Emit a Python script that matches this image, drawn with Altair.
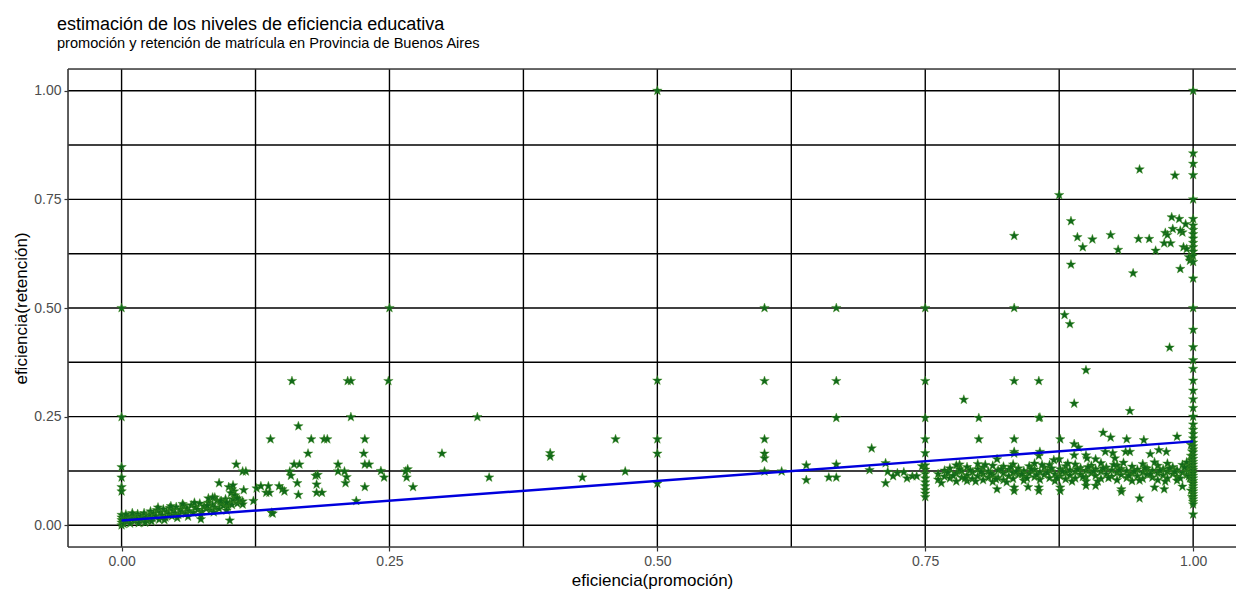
import altair as alt
import pandas as pd

# Axis breaks (ggplot-style major + minor grid)
X_MAJOR = [0.0, 0.25, 0.5, 0.75, 1.0]
X_MINOR = [0.125, 0.375, 0.625, 0.875]
Y_MAJOR = [0.0, 0.25, 0.5, 0.75, 1.0]
Y_MINOR = [0.125, 0.375, 0.625, 0.875]
X_LIMITS = [-0.05, 1.04]
Y_LIMITS = [-0.05, 1.05]

# (eficiencia promoción, eficiencia retención) per school district
origin_band = [
    (0, 0.0), (0, 0.006), (0, 0.012), (0, 0.018), (0, 0.024), (0.002, 0.003), (0.003, 0.015),
    (0.005, 0.008), (0.006, 0.02), (0.008, 0.004), (0.009, 0.014), (0.011, 0.022), (0.012, 0.009),
    (0.014, 0.017), (0.015, 0.026), (0.017, 0.011), (0.018, 0.021), (0.02, 0.015), (0.021, 0.028),
    (0.023, 0.019), (0.024, 0.01), (0.026, 0.024), (0.027, 0.032), (0.029, 0.016), (0.03, 0.027),
    (0.032, 0.021), (0.033, 0.035), (0.035, 0.013), (0.036, 0.029), (0.038, 0.023), (0.039, 0.037),
    (0.041, 0.018), (0.042, 0.031), (0.044, 0.026), (0.045, 0.04), (0.047, 0.021), (0.048, 0.034),
    (0.05, 0.028), (0.051, 0.042), (0.053, 0.024), (0.055, 0.036), (0.056, 0.031), (0.058, 0.045),
    (0.06, 0.027), (0.061, 0.039), (0.063, 0.033), (0.065, 0.046), (0.067, 0.029), (0.069, 0.041),
    (0.071, 0.036), (0.073, 0.05), (0.075, 0.032), (0.077, 0.044), (0.079, 0.038), (0.081, 0.052),
    (0.083, 0.035), (0.085, 0.047), (0.087, 0.041), (0.089, 0.057), (0.091, 0.038), (0.093, 0.049),
    (0.095, 0.045), (0.097, 0.06), (0.099, 0.043), (0.101, 0.052), (0.103, 0.047), (0.106, 0.064),
    (0.108, 0.05), (0.11, 0.058), (0.113, 0.055),
    (0.004, 0.025), (0.01, 0.028), (0.016, 0.005), (0.022, 0.006), (0.028, 0.009), (0.034, 0.041),
    (0.04, 0.012), (0.046, 0.044), (0.052, 0.017), (0.057, 0.049), (0.062, 0.02), (0.068, 0.052),
    (0.074, 0.024), (0.08, 0.045), (0.086, 0.03), (0.092, 0.055), (0.098, 0.034), (0.104, 0.06),
]

left_scatter = [
    (0, 0.5), (0, 0.249), (0, 0.134), (0, 0.11), (0, 0.088), (0, 0.078),
    (0.159, 0.332), (0.211, 0.332), (0.214, 0.332), (0.249, 0.332), (0.214, 0.249), (0.165, 0.228),
    (0.139, 0.198), (0.177, 0.198), (0.189, 0.198), (0.192, 0.198), (0.227, 0.198),
    (0.299, 0.165), (0.174, 0.165), (0.226, 0.165),
    (0.107, 0.14), (0.161, 0.14), (0.166, 0.14), (0.202, 0.14), (0.227, 0.14), (0.231, 0.14),
    (0.113, 0.124), (0.116, 0.124), (0.157, 0.124), (0.202, 0.124), (0.208, 0.124), (0.242, 0.125),
    (0.267, 0.129), (0.265, 0.124), (0.181, 0.114), (0.183, 0.116), (0.158, 0.114), (0.21, 0.111),
    (0.245, 0.11), (0.266, 0.11), (0.091, 0.097), (0.1, 0.088), (0.103, 0.083), (0.105, 0.078),
    (0.102, 0.074), (0.106, 0.069), (0.108, 0.062), (0.104, 0.092), (0.114, 0.081), (0.126, 0.085),
    (0.13, 0.09), (0.135, 0.075), (0.138, 0.075), (0.137, 0.09), (0.147, 0.09), (0.15, 0.083),
    (0.152, 0.078), (0.164, 0.097), (0.165, 0.07), (0.182, 0.094), (0.182, 0.075), (0.187, 0.075),
    (0.209, 0.097), (0.227, 0.088), (0.272, 0.088), (0.219, 0.056), (0.14, 0.029), (0.101, 0.011),
    (0.074, 0.014), (0.123, 0.056), (0.113, 0.048), (0.081, 0.062), (0.087, 0.064), (0.093, 0.056),
    (0.098, 0.052), (0.085, 0.064), (0.141, 0.027), (0.25, 0.5), (0.332, 0.249),
]

mid_scatter = [
    (0.343, 0.11), (0.4, 0.166), (0.4, 0.158), (0.43, 0.11), (0.461, 0.198), (0.47, 0.124),
    (0.5, 1.0), (0.5, 0.333), (0.5, 0.198), (0.5, 0.165), (0.5, 0.096),
    (0.6, 0.5), (0.6, 0.332), (0.6, 0.198), (0.6, 0.165), (0.6, 0.154), (0.6, 0.124),
    (0.616, 0.124), (0.639, 0.138), (0.639, 0.104), (0.667, 0.5), (0.667, 0.332), (0.667, 0.247),
    (0.667, 0.14), (0.66, 0.11), (0.667, 0.11), (0.7, 0.177), (0.698, 0.127), (0.713, 0.143),
    (0.713, 0.097), (0.715, 0.123), (0.72, 0.113), (0.724, 0.12), (0.73, 0.122), (0.733, 0.108),
    (0.738, 0.113), (0.742, 0.113), (0.747, 0.136),
    (0.75, 0.5), (0.75, 0.332), (0.75, 0.247), (0.75, 0.198), (0.75, 0.166), (0.75, 0.138),
    (0.75, 0.128), (0.75, 0.118), (0.75, 0.108), (0.75, 0.099), (0.75, 0.09), (0.75, 0.081),
    (0.75, 0.073), (0.75, 0.065),
]

right_scatter = [
    (0.786, 0.289), (0.8, 0.247), (0.8, 0.198), (0.833, 0.332), (0.856, 0.332), (0.856, 0.247),
    (0.833, 0.198), (0.833, 0.165), (0.782, 0.14), (0.817, 0.152), (0.817, 0.083), (0.833, 0.079),
    (0.833, 0.087), (0.846, 0.088), (0.856, 0.079), (0.856, 0.087), (0.856, 0.16), (0.876, 0.198),
    (0.876, 0.087), (0.876, 0.079), (0.9, 0.091), (0.909, 0.091), (0.933, 0.083), (0.933, 0.077),
    (0.95, 0.062), (0.964, 0.087), (0.973, 0.083), (0.99, 0.089), (0.87, 0.15), (0.875, 0.152),
    (0.889, 0.187), (0.893, 0.179), (0.9, 0.161), (0.901, 0.154), (0.889, 0.161), (0.918, 0.169),
    (0.925, 0.166), (0.937, 0.169), (0.941, 0.169), (0.96, 0.164), (0.968, 0.173), (0.975, 0.169),
    (0.927, 0.154), (0.909, 0.152), (0.916, 0.213), (0.923, 0.202), (0.938, 0.198), (0.954, 0.196),
    (0.985, 0.204), (0.857, 0.169), (0.833, 0.169), (0.889, 0.28), (0.941, 0.263), (0.857, 0.248),
    (0.833, 0.5), (0.833, 0.666), (0.875, 0.76), (0.886, 0.7), (0.892, 0.663), (0.897, 0.64),
    (0.886, 0.6), (0.906, 0.658), (0.88, 0.484), (0.885, 0.463), (0.9, 0.357), (0.978, 0.409),
    (0.923, 0.668), (0.949, 0.659), (0.959, 0.659), (0.93, 0.634), (0.965, 0.632), (0.944, 0.58),
    (0.95, 0.819), (0.983, 0.805), (0.98, 0.709), (0.987, 0.705), (0.993, 0.693), (0.99, 0.674),
    (0.981, 0.682), (0.974, 0.673), (0.976, 0.668), (0.988, 0.678), (0.973, 0.649), (0.979, 0.649),
    (0.991, 0.64), (0.994, 0.636), (0.988, 0.59), (0.996, 0.617), (0.997, 0.609),
]

right_band = [
    (0.762, 0.118), (0.762, 0.105), (0.768, 0.126), (0.768, 0.112), (0.773, 0.108), (0.773, 0.131),
    (0.779, 0.119), (0.779, 0.101), (0.779, 0.138), (0.784, 0.125), (0.784, 0.11), (0.789, 0.115),
    (0.789, 0.134), (0.789, 0.102), (0.794, 0.122), (0.794, 0.107), (0.799, 0.129), (0.799, 0.113),
    (0.799, 0.141), (0.804, 0.118), (0.804, 0.104), (0.804, 0.133), (0.809, 0.124), (0.809, 0.11),
    (0.813, 0.116), (0.813, 0.137), (0.813, 0.1), (0.818, 0.127), (0.818, 0.109), (0.823, 0.12),
    (0.823, 0.135), (0.823, 0.104), (0.828, 0.113), (0.828, 0.128), (0.832, 0.121), (0.832, 0.107),
    (0.832, 0.14), (0.837, 0.117), (0.837, 0.131), (0.842, 0.125), (0.842, 0.103), (0.842, 0.112),
    (0.847, 0.119), (0.847, 0.136), (0.852, 0.111), (0.852, 0.128), (0.852, 0.142), (0.857, 0.122),
    (0.857, 0.105), (0.861, 0.116), (0.861, 0.133), (0.866, 0.126), (0.866, 0.109), (0.866, 0.139),
    (0.871, 0.118), (0.871, 0.102), (0.876, 0.129), (0.876, 0.113), (0.881, 0.121), (0.881, 0.136),
    (0.881, 0.106), (0.885, 0.115), (0.885, 0.127), (0.89, 0.123), (0.89, 0.108), (0.89, 0.14),
    (0.895, 0.117), (0.895, 0.132), (0.9, 0.126), (0.9, 0.111), (0.9, 0.101), (0.905, 0.12),
    (0.905, 0.137), (0.909, 0.114), (0.909, 0.129), (0.914, 0.124), (0.914, 0.107), (0.914, 0.143),
    (0.919, 0.118), (0.919, 0.133), (0.924, 0.127), (0.924, 0.112), (0.929, 0.121), (0.929, 0.104),
    (0.929, 0.138), (0.933, 0.116), (0.933, 0.13), (0.938, 0.125), (0.938, 0.109), (0.943, 0.119),
    (0.943, 0.135), (0.943, 0.102), (0.948, 0.128), (0.948, 0.113), (0.953, 0.122), (0.953, 0.141),
    (0.953, 0.107), (0.957, 0.117), (0.957, 0.131), (0.962, 0.126), (0.962, 0.11), (0.967, 0.12),
    (0.967, 0.137), (0.967, 0.104), (0.972, 0.115), (0.972, 0.129), (0.976, 0.124), (0.976, 0.108),
    (0.976, 0.142), (0.981, 0.118), (0.981, 0.134), (0.985, 0.127), (0.985, 0.112), (0.985, 0.103),
    (0.99, 0.121), (0.99, 0.139), (0.994, 0.116), (0.994, 0.13), (0.994, 0.145), (0.997, 0.123),
    (0.997, 0.108), (0.997, 0.136),
    (0.765, 0.097), (0.771, 0.121), (0.776, 0.114), (0.782, 0.129), (0.787, 0.108), (0.792, 0.127),
    (0.797, 0.101), (0.802, 0.123), (0.806, 0.139), (0.811, 0.119), (0.816, 0.106), (0.821, 0.129),
    (0.826, 0.099), (0.83, 0.134), (0.835, 0.124), (0.84, 0.118), (0.845, 0.108), (0.849, 0.129),
    (0.854, 0.116), (0.859, 0.139), (0.864, 0.121), (0.868, 0.131), (0.873, 0.109), (0.878, 0.124),
    (0.883, 0.142), (0.887, 0.101), (0.892, 0.129), (0.897, 0.111), (0.902, 0.134), (0.907, 0.124),
    (0.911, 0.101), (0.916, 0.131), (0.921, 0.109), (0.926, 0.139), (0.931, 0.127), (0.935, 0.144),
    (0.94, 0.114), (0.945, 0.124), (0.95, 0.103), (0.955, 0.132), (0.96, 0.118), (0.964, 0.145),
    (0.969, 0.126), (0.974, 0.101), (0.978, 0.131), (0.983, 0.123), (0.988, 0.108), (0.992, 0.133),
    (0.996, 0.113), (0.999, 0.128), (0.999, 0.098), (0.998, 0.15), (0.998, 0.16), (0.999, 0.17),
    (0.998, 0.185), (0.999, 0.065), (0.998, 0.08),
]

full_promotion_retention = [
    1.0, 0.856, 0.832, 0.806, 0.75, 0.705, 0.69, 0.68, 0.67, 0.66, 0.65, 0.64, 0.63, 0.62,
    0.606, 0.568, 0.5, 0.45, 0.41, 0.38, 0.36, 0.333, 0.31, 0.29, 0.27, 0.25, 0.232, 0.22,
    0.21, 0.2, 0.19, 0.182, 0.175, 0.168, 0.16, 0.153, 0.146, 0.14, 0.133, 0.127, 0.12, 0.114,
    0.108, 0.102, 0.096, 0.09, 0.084, 0.078, 0.072, 0.066, 0.06, 0.054, 0.048, 0.025,
]

# linear fit endpoints
fit_x = [0.0, 1.0]
fit_y = [0.011, 0.193]

rows = origin_band + left_scatter + mid_scatter + right_scatter + right_band
rows += [(1.0, v) for v in full_promotion_retention]
points = pd.DataFrame(rows, columns=["promocion", "retencion"])
fit = pd.DataFrame({"promocion": fit_x, "retencion": fit_y})

STAR = ("M0,-1L0.235,-0.324L0.951,-0.309L0.38,0.124L0.588,0.809L0,0.4"
        "L-0.588,0.809L-0.38,0.124L-0.951,-0.309L-0.235,-0.324Z")
FONT = "Liberation Sans"

xscale = alt.Scale(domain=X_LIMITS, nice=False, zero=False)
yscale = alt.Scale(domain=Y_LIMITS, nice=False, zero=False)

xaxis = alt.Axis(values=X_MAJOR, format=".2f", title="eficiencia(promoción)", grid=False,
                 domain=False, tickSize=4, tickColor="#333333", tickWidth=1.2,
                 labelColor="#4d4d4d", labelFont=FONT, labelFontSize=14, labelPadding=3,
                 titleFont=FONT, titleFontSize=17, titleFontWeight="normal", titleColor="#000000",
                 titleBaseline="alphabetic", titleY=38)
yaxis = alt.Axis(values=Y_MAJOR, format=".2f", title="eficiencia(retención)", grid=False,
                 domain=False, tickSize=4, tickColor="#333333", tickWidth=1.2,
                 labelColor="#4d4d4d", labelFont=FONT, labelFontSize=14, labelPadding=3,
                 titleFont=FONT, titleFontSize=17, titleFontWeight="normal", titleColor="#000000",
                 titleAngle=-90, titleBaseline="alphabetic", titleAlign="center",
                 titleX=-42, titleY=239)

grid_x = alt.Chart(pd.DataFrame({"promocion": X_MAJOR + X_MINOR})).mark_rule(
    color="#000000", strokeWidth=1.4
).encode(x=alt.X("promocion:Q", scale=xscale, axis=xaxis))

grid_y = alt.Chart(pd.DataFrame({"retencion": Y_MAJOR + Y_MINOR})).mark_rule(
    color="#000000", strokeWidth=1.4
).encode(y=alt.Y("retencion:Q", scale=yscale, axis=yaxis))

# panel border on the left, top and bottom edges
border_x = alt.Chart(pd.DataFrame({"promocion": X_LIMITS[:1]})).mark_rule(
    color="#3a3a3a", strokeWidth=1.6
).encode(x=alt.X("promocion:Q", scale=xscale, axis=xaxis))
border_y = alt.Chart(pd.DataFrame({"retencion": Y_LIMITS})).mark_rule(
    color="#3a3a3a", strokeWidth=1.6
).encode(y=alt.Y("retencion:Q", scale=yscale, axis=yaxis))

stars = alt.Chart(points).mark_point(
    shape=STAR, filled=True, size=100, color="#11691a", opacity=1,
    stroke="#3f8a1f", strokeWidth=0.4
).encode(
    x=alt.X("promocion:Q", scale=xscale, axis=xaxis),
    y=alt.Y("retencion:Q", scale=yscale, axis=yaxis),
)

line = alt.Chart(fit).mark_line(color="#0000dd", strokeWidth=2.4).encode(
    x=alt.X("promocion:Q", scale=xscale, axis=xaxis),
    y=alt.Y("retencion:Q", scale=yscale, axis=yaxis),
)

chart = alt.layer(grid_x, grid_y, border_x, border_y, stars, line).properties(
    width=1168,
    height=478,
    autosize=alt.AutoSizeParams(type="none"),
    padding={"left": 68, "top": 69, "right": 0, "bottom": 42},
    title=alt.TitleParams(
        text="estimación de los niveles de eficiencia educativa",
        subtitle="promoción y retención de matrícula en Provincia de Buenos Aires",
        anchor="start", frame="group", dx=-11, offset=17.5,
        font=FONT, fontSize=18, fontWeight="normal", color="#000000",
        subtitleFont=FONT, subtitleFontSize=14.6, subtitleColor="#000000", subtitlePadding=2.5,
    ),
).configure_view(stroke=None).configure(background="white")

chart.save("out.html", embed_options={"renderer": "svg", "actions": False})
